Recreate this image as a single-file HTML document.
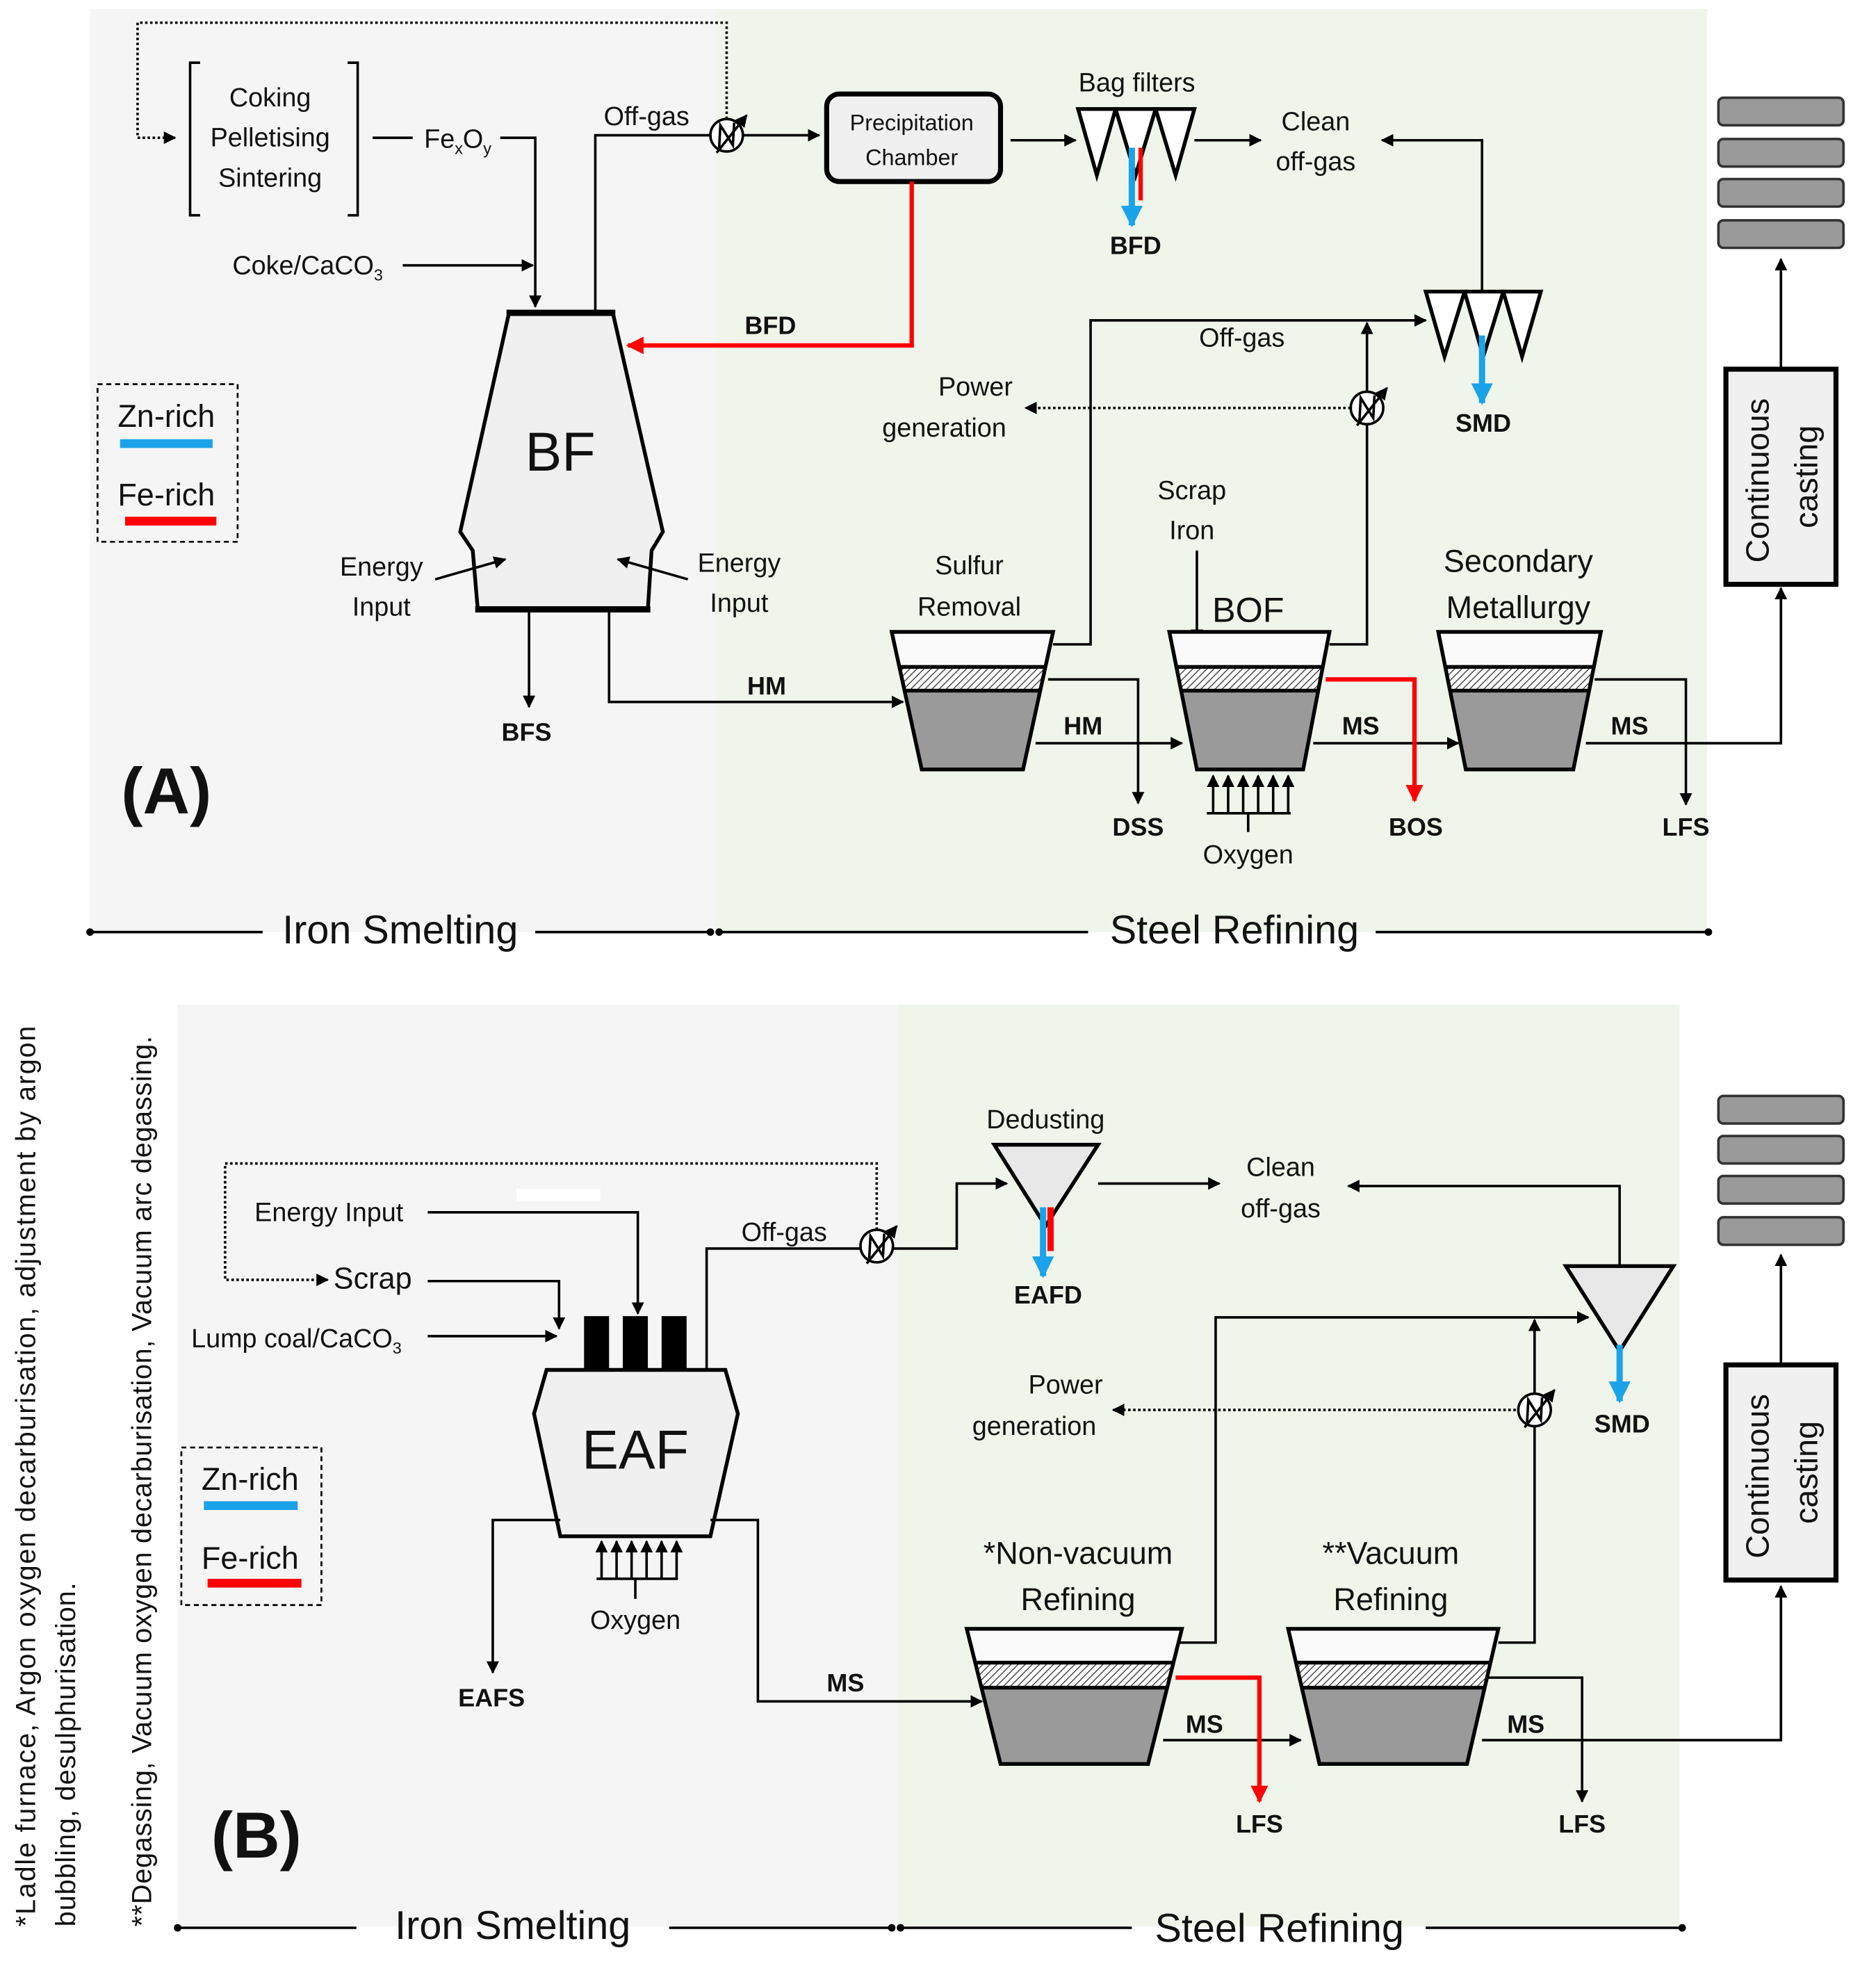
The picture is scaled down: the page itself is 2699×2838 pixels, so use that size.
<!DOCTYPE html>
<html><head><meta charset="utf-8"><style>html,body{margin:0;padding:0;background:#fff}svg{display:block}text{font-family:"Liberation Sans",sans-serif;fill:#111}</style></head><body>
<svg width="2699" height="2838" viewBox="0 0 1500 1577" xmlns="http://www.w3.org/2000/svg">
<defs>
<marker id="ar" viewBox="0 0 10 10" refX="9" refY="5" markerWidth="5" markerHeight="5" orient="auto-start-reverse"><path d="M0,0L10,5L0,10z" fill="#000"/></marker>
<marker id="arr" viewBox="0 0 10 10" refX="9" refY="5" markerWidth="4" markerHeight="4" orient="auto"><path d="M0,0L10,5L0,10z" fill="#f00"/></marker>
<marker id="arb" viewBox="0 0 10 10" refX="9" refY="5" markerWidth="3.5" markerHeight="3.5" orient="auto"><path d="M0,0L10,5L0,10z" fill="#1aa3e8"/></marker>
<pattern id="hat" width="4" height="4" patternUnits="userSpaceOnUse" patternTransform="rotate(45)"><rect width="4" height="4" fill="#fff"/><line x1="0" y1="0" x2="0" y2="4" stroke="#444" stroke-width="1.6"/></pattern>
<clipPath id="c1"><polygon points="713,505 842,505 818,615 737,615"/></clipPath>
<clipPath id="c2"><polygon points="935,505 1063,505 1042,615 957,615"/></clipPath>
<clipPath id="c3"><polygon points="1150,505 1280,505 1258,615 1172,615"/></clipPath>
<clipPath id="c4"><polygon points="773,1302 945,1302 918,1410 800,1410"/></clipPath>
<clipPath id="c5"><polygon points="1030,1302 1198,1302 1173,1410 1055,1410"/></clipPath>
</defs>
<rect width="1500" height="1577" fill="#fff"/>
<rect x="72" y="7" width="500" height="738" fill="#f5f5f5"/>
<rect x="572" y="7" width="793" height="738" fill="#eff5ea"/>
<rect x="142" y="803" width="576" height="737" fill="#f5f5f5"/>
<rect x="718" y="803" width="625" height="737" fill="#eff5ea"/>

<g stroke="#000" stroke-width="2" fill="none">
<polyline points="581,95 581,18 110,18 110,110 140,110" stroke-dasharray="2,2" marker-end="url(#ar)"/>
<polyline points="160,50 152,50 152,172 160,172"/>
<polyline points="278,50 286,50 286,172 278,172"/>
<line x1="298" y1="110" x2="330" y2="110"/>
<polyline points="400,110 428,110 428,245" marker-end="url(#ar)"/>
<line x1="322" y1="212" x2="426" y2="212" marker-end="url(#ar)"/>
<polygon points="407,250 490,250 530,425 521,440 518,487 382,487 378,440 368,425" fill="#f0f0f0" stroke-width="3"/>
<line x1="405" y1="250" x2="492" y2="250" stroke-width="5"/>
<line x1="380" y1="487" x2="520" y2="487" stroke-width="5"/>
<line x1="348" y1="463" x2="404" y2="447" marker-end="url(#ar)"/>
<line x1="550" y1="463" x2="494" y2="447" marker-end="url(#ar)"/>
<line x1="423" y1="487" x2="423" y2="565" marker-end="url(#ar)"/>
<polyline points="487,487 487,561 722,561" marker-end="url(#ar)"/>
<polyline points="476,250 476,108 655,108" marker-end="url(#ar)"/>
<line x1="808" y1="112" x2="860" y2="112" marker-end="url(#ar)"/>
<line x1="955" y1="112" x2="1008" y2="112" marker-end="url(#ar)"/>
<polyline points="1185,233 1185,112 1105,112" marker-end="url(#ar)"/>
<polyline points="842,515 872,515 872,256 1140,256" marker-end="url(#ar)"/>
<polyline points="1063,515 1093,515 1093,258" marker-end="url(#ar)"/>
<line x1="1080" y1="326" x2="820" y2="326" stroke-dasharray="2,2" marker-end="url(#ar)"/>
<line x1="1424" y1="295" x2="1424" y2="207" marker-end="url(#ar)"/>
<polyline points="838,543 910,543 910,642" marker-end="url(#ar)"/>
<line x1="828" y1="594" x2="945" y2="594" marker-end="url(#ar)"/>
<line x1="1050" y1="594" x2="1166" y2="594" marker-end="url(#ar)"/>
<polyline points="1275,543 1348,543 1348,643" marker-end="url(#ar)"/>
<polyline points="1268,594 1424,594 1424,470" marker-end="url(#ar)"/>
<line x1="957" y1="440" x2="957" y2="512" marker-end="url(#ar)"/>
<polygon points="862,87 892,87 877,140" stroke-width="3" fill="#fff"/>
<polygon points="892,87 924,87 908,140" stroke-width="3" fill="#fff"/>
<polygon points="924,87 955,87 940,140" stroke-width="3" fill="#fff"/>
<polygon points="1140,233 1171,233 1155,285" stroke-width="3" fill="#fff"/>
<polygon points="1171,233 1202,233 1186,285" stroke-width="3" fill="#fff"/>
<polygon points="1202,233 1232,233 1217,285" stroke-width="3" fill="#fff"/>
<rect x="661" y="75" width="139" height="70" rx="10" fill="#f0f0f0" stroke-width="4"/>
<rect x="1380" y="295" width="88" height="172" fill="#f0f0f0" stroke-width="4"/>
<rect x="78" y="307" width="112" height="126" stroke-dasharray="4,3" stroke-width="1.5"/>
<circle cx="581" cy="108" r="13" fill="#fff"/>
<polyline points="575,118 576,100 586,116 587,98"/>
<line x1="573" y1="122" x2="597" y2="92" marker-end="url(#ar)"/>
<circle cx="1093" cy="326" r="13" fill="#fff"/>
<polyline points="1087,336 1088,318 1098,334 1099,316"/>
<line x1="1085" y1="340" x2="1109" y2="310" marker-end="url(#ar)"/>
<line x1="965" y1="650" x2="1032" y2="650"/>
<line x1="998" y1="650" x2="998" y2="665"/>
<g marker-end="url(#ar)"><line x1="970" y1="650" x2="970" y2="620"/><line x1="982" y1="650" x2="982" y2="620"/><line x1="994" y1="650" x2="994" y2="620"/><line x1="1006" y1="650" x2="1006" y2="620"/><line x1="1018" y1="650" x2="1018" y2="620"/><line x1="1030" y1="650" x2="1030" y2="620"/></g>

<polyline points="701,983 701,930 180,930 180,1023 262,1023" stroke-dasharray="2,2" marker-end="url(#ar)"/>
<polyline points="342,969 510,969 510,1050" marker-end="url(#ar)"/>
<polyline points="342,1024 447,1024 447,1062" marker-end="url(#ar)"/>
<line x1="342" y1="1068" x2="445" y2="1068" marker-end="url(#ar)"/>
<polygon points="437,1095 580,1095 590,1130 568,1228 448,1228 427,1130" fill="#f0f0f0" stroke-width="3"/>
<polyline points="565,1095 565,998 688,998"/>
<polyline points="714,998 765,998 765,946 805,946" marker-end="url(#ar)"/>
<line x1="878" y1="946" x2="975" y2="946" marker-end="url(#ar)"/>
<polyline points="1295,1012 1295,948 1078,948" marker-end="url(#ar)"/>
<polyline points="943,1313 972,1313 972,1053 1270,1053" marker-end="url(#ar)"/>
<polyline points="1198,1313 1227,1313 1227,1055" marker-end="url(#ar)"/>
<line x1="1212" y1="1127" x2="890" y2="1127" stroke-dasharray="2,2" marker-end="url(#ar)"/>
<line x1="1424" y1="1091" x2="1424" y2="1003" marker-end="url(#ar)"/>
<polyline points="448,1215 394,1215 394,1337" marker-end="url(#ar)"/>
<polyline points="568,1215 606,1215 606,1360 785,1360" marker-end="url(#ar)"/>
<line x1="930" y1="1391" x2="1040" y2="1391" marker-end="url(#ar)"/>
<polyline points="1190,1341 1265,1341 1265,1440" marker-end="url(#ar)"/>
<polyline points="1185,1391 1424,1391 1424,1268" marker-end="url(#ar)"/>
<polygon points="795,915 878,915 836,980" fill="#e8e8e8" stroke-width="3"/>
<polygon points="1252,1012 1338,1012 1295,1080" fill="#e8e8e8" stroke-width="3"/>
<rect x="1380" y="1091" width="88" height="172" fill="#f0f0f0" stroke-width="4"/>
<rect x="145" y="1157" width="112" height="126" stroke-dasharray="4,3" stroke-width="1.5"/>
<circle cx="701" cy="996" r="13" fill="#fff"/>
<polyline points="695,1006 696,988 706,1004 707,986"/>
<line x1="693" y1="1010" x2="717" y2="980" marker-end="url(#ar)"/>
<circle cx="1227" cy="1127" r="13" fill="#fff"/>
<polyline points="1221,1137 1222,1119 1232,1135 1233,1117"/>
<line x1="1219" y1="1141" x2="1243" y2="1111" marker-end="url(#ar)"/>
<line x1="477" y1="1262" x2="542" y2="1262"/>
<line x1="508" y1="1262" x2="508" y2="1278"/>
<g marker-end="url(#ar)"><line x1="481" y1="1262" x2="481" y2="1232"/><line x1="493" y1="1262" x2="493" y2="1232"/><line x1="505" y1="1262" x2="505" y2="1232"/><line x1="517" y1="1262" x2="517" y2="1232"/><line x1="529" y1="1262" x2="529" y2="1232"/><line x1="541" y1="1262" x2="541" y2="1232"/></g>

<line x1="72" y1="745" x2="210" y2="745"/><line x1="428" y1="745" x2="568" y2="745"/>
<line x1="575" y1="745" x2="870" y2="745"/><line x1="1100" y1="745" x2="1366" y2="745"/>
<line x1="142" y1="1541" x2="285" y2="1541"/><line x1="535" y1="1541" x2="713" y2="1541"/>
<line x1="720" y1="1541" x2="905" y2="1541"/><line x1="1140" y1="1541" x2="1345" y2="1541"/>
</g>
<g fill="#000"><circle cx="72" cy="745" r="3"/><circle cx="568" cy="745" r="3"/><circle cx="575" cy="745" r="3"/><circle cx="1366" cy="745" r="3"/>
<circle cx="142" cy="1541" r="3"/><circle cx="713" cy="1541" r="3"/><circle cx="720" cy="1541" r="3"/><circle cx="1345" cy="1541" r="3"/></g>

<rect x="467" y="1052" width="20" height="43" fill="#000"/><rect x="498" y="1052" width="20" height="43" fill="#000"/><rect x="529" y="1052" width="20" height="43" fill="#000"/>
<rect x="413" y="950" width="67" height="10" fill="#fff"/>

<g clip-path="url(#c1)"><rect x="700" y="505" width="160" height="28" fill="#fafafa"/><rect x="700" y="533" width="160" height="19" fill="url(#hat)"/><rect x="700" y="552" width="160" height="63" fill="#9a9a9a"/></g>
<g clip-path="url(#c2)"><rect x="920" y="505" width="160" height="28" fill="#fafafa"/><rect x="920" y="533" width="160" height="19" fill="url(#hat)"/><rect x="920" y="552" width="160" height="63" fill="#9a9a9a"/></g>
<g clip-path="url(#c3)"><rect x="1140" y="505" width="160" height="28" fill="#fafafa"/><rect x="1140" y="533" width="160" height="19" fill="url(#hat)"/><rect x="1140" y="552" width="160" height="63" fill="#9a9a9a"/></g>
<g clip-path="url(#c4)"><rect x="760" y="1302" width="200" height="27" fill="#fafafa"/><rect x="760" y="1329" width="200" height="20" fill="url(#hat)"/><rect x="760" y="1349" width="200" height="61" fill="#9a9a9a"/></g>
<g clip-path="url(#c5)"><rect x="1020" y="1302" width="200" height="27" fill="#fafafa"/><rect x="1020" y="1329" width="200" height="20" fill="url(#hat)"/><rect x="1020" y="1349" width="200" height="61" fill="#9a9a9a"/></g>
<g stroke="#000" stroke-width="3" fill="none">
<polygon points="713,505 842,505 818,615 737,615"/><line x1="720" y1="533" x2="836" y2="533"/><line x1="724" y1="552" x2="832" y2="552"/>
<polygon points="935,505 1063,505 1042,615 957,615"/><line x1="941" y1="533" x2="1057" y2="533"/><line x1="945" y1="552" x2="1053" y2="552"/>
<polygon points="1150,505 1280,505 1258,615 1172,615"/><line x1="1156" y1="533" x2="1274" y2="533"/><line x1="1160" y1="552" x2="1270" y2="552"/>
<polygon points="773,1302 945,1302 918,1410 800,1410"/><line x1="780" y1="1329" x2="938" y2="1329"/><line x1="785" y1="1349" x2="933" y2="1349"/>
<polygon points="1030,1302 1198,1302 1173,1410 1055,1410"/><line x1="1037" y1="1329" x2="1191" y2="1329"/><line x1="1042" y1="1349" x2="1186" y2="1349"/>
</g>

<g fill="#9a9a9a" stroke="#333" stroke-width="2">
<rect x="1374" y="78" width="100" height="22" rx="4"/><rect x="1374" y="111" width="100" height="22" rx="4"/><rect x="1374" y="143" width="100" height="22" rx="4"/><rect x="1374" y="176" width="100" height="22" rx="4"/>
<rect x="1374" y="876" width="100" height="22" rx="4"/><rect x="1374" y="908" width="100" height="22" rx="4"/><rect x="1374" y="940" width="100" height="22" rx="4"/><rect x="1374" y="973" width="100" height="22" rx="4"/>
</g>

<g stroke-width="3.5" fill="none">
<polyline points="729,145 729,276 502,276" stroke="#f00" marker-end="url(#arr)"/>
<polyline points="1060,543 1131,543 1131,640" stroke="#f00" marker-end="url(#arr)"/>
<polyline points="940,1341 1007,1341 1007,1440" stroke="#f00" marker-end="url(#arr)"/>
<line x1="912" y1="118" x2="912" y2="160" stroke="#f00"/>
<line x1="905" y1="118" x2="905" y2="180" stroke="#1aa3e8" stroke-width="5" marker-end="url(#arb)"/>
<line x1="1185" y1="268" x2="1185" y2="322" stroke="#1aa3e8" stroke-width="5" marker-end="url(#arb)"/>
<line x1="840" y1="965" x2="840" y2="1000" stroke="#f00" stroke-width="5"/>
<line x1="834" y1="965" x2="834" y2="1020" stroke="#1aa3e8" stroke-width="5" marker-end="url(#arb)"/>
<line x1="1295" y1="1075" x2="1295" y2="1120" stroke="#1aa3e8" stroke-width="5" marker-end="url(#arb)"/>
</g>
<rect x="96" y="351" width="74" height="7" fill="#1aa3e8"/><rect x="100" y="413" width="73" height="7" fill="#f00"/>
<rect x="163" y="1200" width="75" height="7" fill="#1aa3e8"/><rect x="166" y="1262" width="75" height="7" fill="#f00"/>

<g font-size="21" text-anchor="middle">
<text x="216" y="85">Coking</text><text x="216" y="117">Pelletising</text><text x="216" y="149">Sintering</text>
<text x="366" y="118">Fe<tspan font-size="13" dy="5">x</tspan><tspan dy="-5">O</tspan><tspan font-size="13" dy="5">y</tspan></text>
<text x="246" y="219">Coke/CaCO<tspan font-size="13" dy="5">3</tspan></text>
<text x="517" y="100">Off-gas</text>
<text x="729" y="104" font-size="18">Precipitation</text><text x="729" y="132" font-size="18">Chamber</text>
<text x="909" y="73">Bag filters</text>
<text x="1052" y="104">Clean</text><text x="1052" y="136">off-gas</text>
<text x="993" y="277">Off-gas</text>
<text x="780" y="316">Power</text><text x="755" y="349">generation</text>
<text x="305" y="460">Energy</text><text x="305" y="492">Input</text>
<text x="591" y="457">Energy</text><text x="591" y="489">Input</text>
<text x="775" y="459">Sulfur</text><text x="775" y="492">Removal</text>
<text x="953" y="399">Scrap</text><text x="953" y="431">Iron</text>
<text x="998" y="690">Oxygen</text>
<text x="1214" y="457" font-size="25">Secondary</text><text x="1214" y="494" font-size="25">Metallurgy</text>
<text x="133" y="341" font-size="25">Zn-rich</text><text x="133" y="404" font-size="25">Fe-rich</text>
<text x="263" y="976">Energy Input</text>
<text x="298" y="1030" font-size="24">Scrap</text>
<text x="237" y="1077">Lump coal/CaCO<tspan font-size="13" dy="5">3</tspan></text>
<text x="627" y="992">Off-gas</text>
<text x="836" y="902">Dedusting</text>
<text x="1024" y="940">Clean</text><text x="1024" y="973">off-gas</text>
<text x="852" y="1114">Power</text><text x="827" y="1147">generation</text>
<text x="508" y="1302">Oxygen</text>
<text x="862" y="1250" font-size="25">*Non-vacuum</text><text x="862" y="1287" font-size="25">Refining</text>
<text x="1112" y="1250" font-size="25">**Vacuum</text><text x="1112" y="1287" font-size="25">Refining</text>
<text x="200" y="1191" font-size="25">Zn-rich</text><text x="200" y="1254" font-size="25">Fe-rich</text>
</g>
<g font-size="20" font-weight="bold" text-anchor="middle">
<text x="908" y="203">BFD</text><text x="616" y="267">BFD</text><text x="1186" y="345">SMD</text>
<text x="421" y="592">BFS</text><text x="613" y="555">HM</text><text x="866" y="587">HM</text>
<text x="910" y="668">DSS</text><text x="1088" y="587">MS</text><text x="1132" y="668">BOS</text>
<text x="1303" y="587">MS</text><text x="1348" y="668">LFS</text>
<text x="838" y="1042">EAFD</text><text x="1297" y="1145">SMD</text><text x="393" y="1364">EAFS</text>
<text x="676" y="1352">MS</text><text x="963" y="1385">MS</text><text x="1007" y="1465">LFS</text>
<text x="1220" y="1385">MS</text><text x="1265" y="1465">LFS</text>
</g>
<text x="448" y="376" font-size="44" text-anchor="middle">BF</text>
<text x="508" y="1174" font-size="44" text-anchor="middle">EAF</text>
<text x="998" y="497" font-size="28" text-anchor="middle">BOF</text>
<text x="133" y="650" font-size="52" font-weight="bold" text-anchor="middle">(A)</text>
<text x="205" y="1485" font-size="52" font-weight="bold" text-anchor="middle">(B)</text>
<g font-size="32" text-anchor="middle">
<text x="320" y="754">Iron Smelting</text><text x="987" y="754">Steel Refining</text>
<text x="410" y="1550">Iron Smelting</text><text x="1023" y="1552">Steel Refining</text>
</g>
<g font-size="26" text-anchor="middle">
<text transform="translate(1414,384) rotate(-90)">Continuous</text><text transform="translate(1453,381) rotate(-90)">casting</text>
<text transform="translate(1414,1180) rotate(-90)">Continuous</text><text transform="translate(1453,1177) rotate(-90)">casting</text>
</g>
<g font-size="22">
<text transform="translate(28,1540) rotate(-90)" textLength="720" lengthAdjust="spacing">*Ladle furnace, Argon oxygen decarburisation, adjustment by argon</text>
<text transform="translate(60,1540) rotate(-90)" textLength="275" lengthAdjust="spacing">bubbling, desulphurisation.</text>
<text transform="translate(121,1540) rotate(-90)" textLength="712" lengthAdjust="spacing">**Degassing, Vacuum oxygen decarburisation, Vacuum arc degassing.</text>
</g>
</svg>
</body></html>
